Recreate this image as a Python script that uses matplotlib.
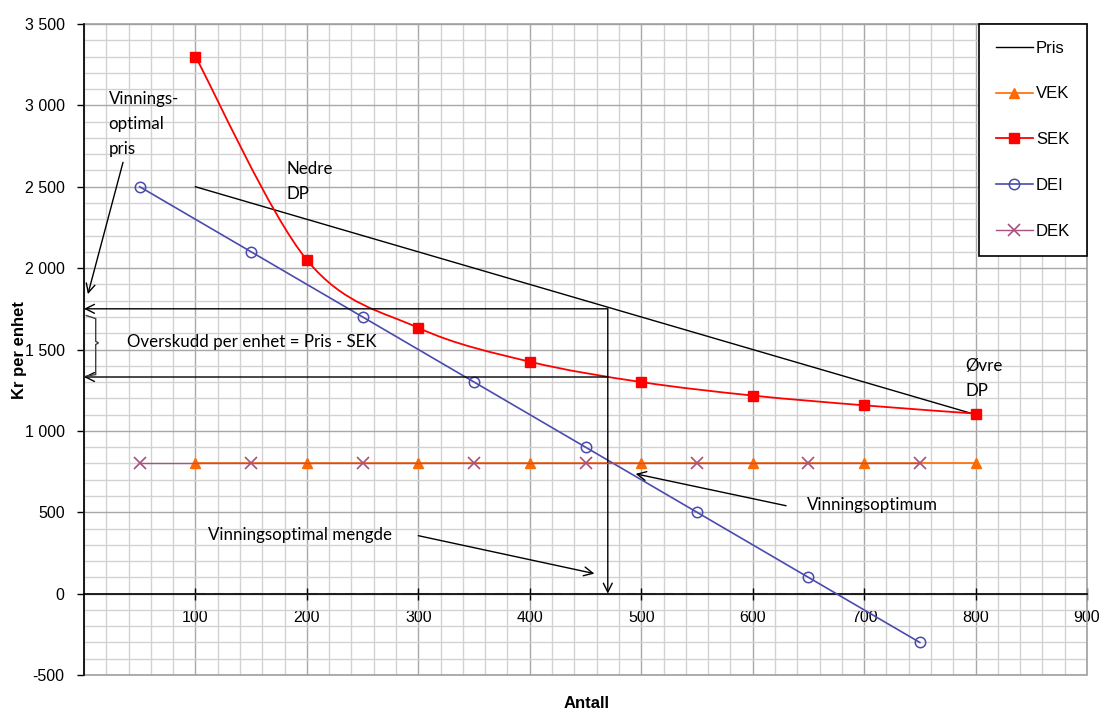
import numpy as np
import matplotlib
matplotlib.use("Agg")
import matplotlib.pyplot as plt
from matplotlib.path import Path
from matplotlib.patches import PathPatch, Rectangle
from matplotlib.ticker import FuncFormatter

# --- data -------------------------------------------------------------
pris_x = [100, 200, 300, 400, 500, 600, 700, 800]
pris_y = [2500, 2300, 2100, 1900, 1700, 1500, 1300, 1100]

vek_x = [100, 200, 300, 400, 500, 600, 700, 800]
vek_y = [800, 800, 800, 800, 800, 800, 800, 800]

sek_x = [100, 200, 300, 400, 500, 600, 700, 800]
sek_y = [3300, 2050, 1633, 1425, 1300, 1217, 1157, 1106]

dei_x = [50, 150, 250, 350, 450, 550, 650, 750]
dei_y = [2500, 2100, 1700, 1300, 900, 500, 100, -300]

dek_x = [50, 150, 250, 350, 450, 550, 650, 750]
dek_y = [800, 800, 800, 800, 800, 800, 800, 800]

null_x = [100, 800]
null_y = [0, 0]

opt_mengde = 470      # vinningsoptimal mengde
opt_pris = 1750       # vinningsoptimal pris
opt_sek = 1331        # SEK ved optimal mengde

x_ticks = [100, 200, 300, 400, 500, 600, 700, 800, 900]
y_ticks = [-500, 0, 500, 1000, 1500, 2000, 2500, 3000, 3500]

# --- style --------------------------------------------------------------
C_PRIS = "#000000"
C_VEK = "#FF6A00"
C_SEK = "#FF0000"
C_DEI = "#4B4BAD"
C_DEK = "#A8507E"
NOTE_FONT = ["Lato", "DejaVu Sans"]
AX_FONT = ["Liberation Sans", "DejaVu Sans"]

W, H = 1102, 713
fig = plt.figure(figsize=(W / 100, H / 100), dpi=100)
ax = fig.add_axes([84 / W, 1 - 675 / H, (1087 - 84) / W, (675 - 24) / H])
ax.set_xlim(0, 900)
ax.set_ylim(-500, 3500)

# grid
ax.set_xticks(x_ticks)
ax.set_xticks(np.arange(0, 901, 20), minor=True)
ax.set_yticks(y_ticks)
ax.set_yticks(np.arange(-500, 3501, 100), minor=True)
ax.grid(which="minor", color="#D2D2D2", lw=1.0, zorder=0)
ax.grid(which="major", color="#A8A8A8", lw=1.0, zorder=0)
ax.set_axisbelow(True)

for s in ("top", "right"):
    ax.spines[s].set_visible(False)
ax.add_patch(Rectangle((0, 0), 1, 1, transform=ax.transAxes, fill=False,
                       edgecolor="#A0A0A0", lw=1.2, clip_on=False, zorder=1))
ax.spines["bottom"].set_position(("data", 0))
ax.spines["bottom"].set_color("black")
ax.spines["bottom"].set_linewidth(1.2)
ax.spines["bottom"].set_zorder(2)
ax.spines["left"].set_color("black")
ax.spines["left"].set_linewidth(1.2)

ax.tick_params(which="minor", length=0)
ax.tick_params(axis="x", which="major", direction="inout", length=9, width=1,
               pad=7, labelsize=11.5, colors="black")
ax.tick_params(axis="y", which="major", direction="out", length=5, width=1,
               pad=9, labelsize=11.5, colors="black")
ax.yaxis.set_major_formatter(FuncFormatter(lambda v, p: f"{int(v):,}".replace(",", " ")))
for lab in ax.get_xticklabels() + ax.get_yticklabels():
    lab.set_fontfamily(AX_FONT)

# axis titles
fig.text(587 / W, 1 - 704 / H, "Antall", ha="center", va="center",
         fontsize=12, fontweight="bold", family=AX_FONT)
fig.text(20 / W, 1 - 350 / H, "Kr per enhet", ha="center", va="center",
         rotation=90, fontsize=12, fontweight="bold", family=AX_FONT)

# zero reference line
ax.plot(null_x, null_y, color="#B4B4B4", lw=1.5, ls=(0, (5, 4)), zorder=1.5)

# series
ax.plot(pris_x, pris_y, color=C_PRIS, lw=1.0, label="Pris", zorder=3)
ax.plot(vek_x, vek_y, color=C_VEK, lw=1.2, marker="^", ms=7.5, mec=C_VEK,
        mfc=C_VEK, label="VEK", zorder=3)


# smoothed SEK curve (cubic Bezier through the points)
def smooth_path(xs, ys):
    pts = np.column_stack([xs, ys]).astype(float)
    verts = [pts[0]]
    codes = [Path.MOVETO]
    n = len(pts)
    for i in range(n - 1):
        p0 = pts[i - 1] if i > 0 else pts[i]
        p1 = pts[i]
        p2 = pts[i + 1]
        p3 = pts[i + 2] if i + 2 < n else pts[i + 1]
        c1 = p1 + (p2 - p0) / 6.0
        c2 = p2 - (p3 - p1) / 6.0
        verts += [c1, c2, p2]
        codes += [Path.CURVE4] * 3
    return Path(verts, codes)


ax.add_patch(PathPatch(smooth_path(sek_x, sek_y), fill=False, edgecolor=C_SEK,
                       lw=1.3, zorder=3))
ax.plot(sek_x, sek_y, ls="none", marker="s", ms=7.5, color=C_SEK, zorder=4)
ax.plot([], [], color=C_SEK, lw=1.3, marker="s", ms=7.5, label="SEK")

ax.plot(dei_x, dei_y, color=C_DEI, lw=1.2, marker="o", ms=7.5, mfc="none",
        mec=C_DEI, mew=1.1, label="DEI", zorder=3)
ax.plot(dek_x, dek_y, color=C_DEK, lw=1.0, marker="x", ms=8, mew=1.2,
        label="DEK", zorder=3.5)

# legend
handles, labels = ax.get_legend_handles_labels()
order = ["Pris", "VEK", "SEK", "DEI", "DEK"]
hmap = dict(zip(labels, handles))
leg = ax.legend([hmap[k] for k in order], order, loc="upper right",
                bbox_to_anchor=(1.0, 1.0), borderaxespad=0, frameon=True,
                fancybox=False, edgecolor="black", framealpha=1,
                prop={"family": AX_FONT, "size": 12}, labelspacing=1.85,
                handlelength=2.2, handletextpad=0.2, borderpad=1.0)
leg.get_frame().set_linewidth(1.2)
leg.set_zorder(10)

# construction lines for the optimum
arrow_kw = dict(arrowstyle="->", color="black", lw=1.0,
                shrinkA=0, shrinkB=0, mutation_scale=16)
ax.annotate("", xy=(0, opt_pris), xytext=(opt_mengde, opt_pris), arrowprops=arrow_kw)
ax.annotate("", xy=(0, opt_sek), xytext=(opt_mengde, opt_sek), arrowprops=arrow_kw)
ax.annotate("", xy=(opt_mengde, 0), xytext=(opt_mengde, opt_pris), arrowprops=arrow_kw)

# brace between price and unit cost
bx0, bx1, bxm = 1.5, 10.5, 13.0
ymid = (opt_pris + opt_sek) / 2
brace = Path([(bx0, opt_pris - 40), (bx1, opt_pris - 60), (bx1, ymid + 10),
              (bxm, ymid), (bx1, ymid - 10), (bx1, opt_sek + 15), (bx0, opt_sek + 5)],
             [Path.MOVETO] + [Path.LINETO] * 6)
ax.add_patch(PathPatch(brace, fill=False, edgecolor="#404040", lw=1.0, zorder=5))

note_kw = dict(family=NOTE_FONT, fontsize=12.2, color="black", zorder=6)
ax.text(22, 3090, "Vinnings-\noptimal\npris", ha="left", va="top",
        linespacing=1.7, **note_kw)
ax.annotate("", xy=(3.5, 1840), xytext=(35, 2650), arrowprops=arrow_kw)

ax.text(182, 2660, "Nedre\nDP", ha="left", va="top", linespacing=1.7, **note_kw)
ax.text(791, 1450, "Øvre\nDP", ha="left", va="top", linespacing=1.7, **note_kw)

ax.text(39, 1545, "Overskudd per enhet = Pris - SEK", ha="left", va="center", **note_kw)

ax.text(649, 545, "Vinningsoptimum", ha="left", va="center", **note_kw)
ax.annotate("", xy=(495, 736), xytext=(630, 540), arrowprops=arrow_kw)

ax.text(111, 360, "Vinningsoptimal mengde", ha="left", va="center", **note_kw)
ax.annotate("", xy=(458, 123), xytext=(300, 356), arrowprops=arrow_kw)

fig.savefig("out.png", dpi=100)
